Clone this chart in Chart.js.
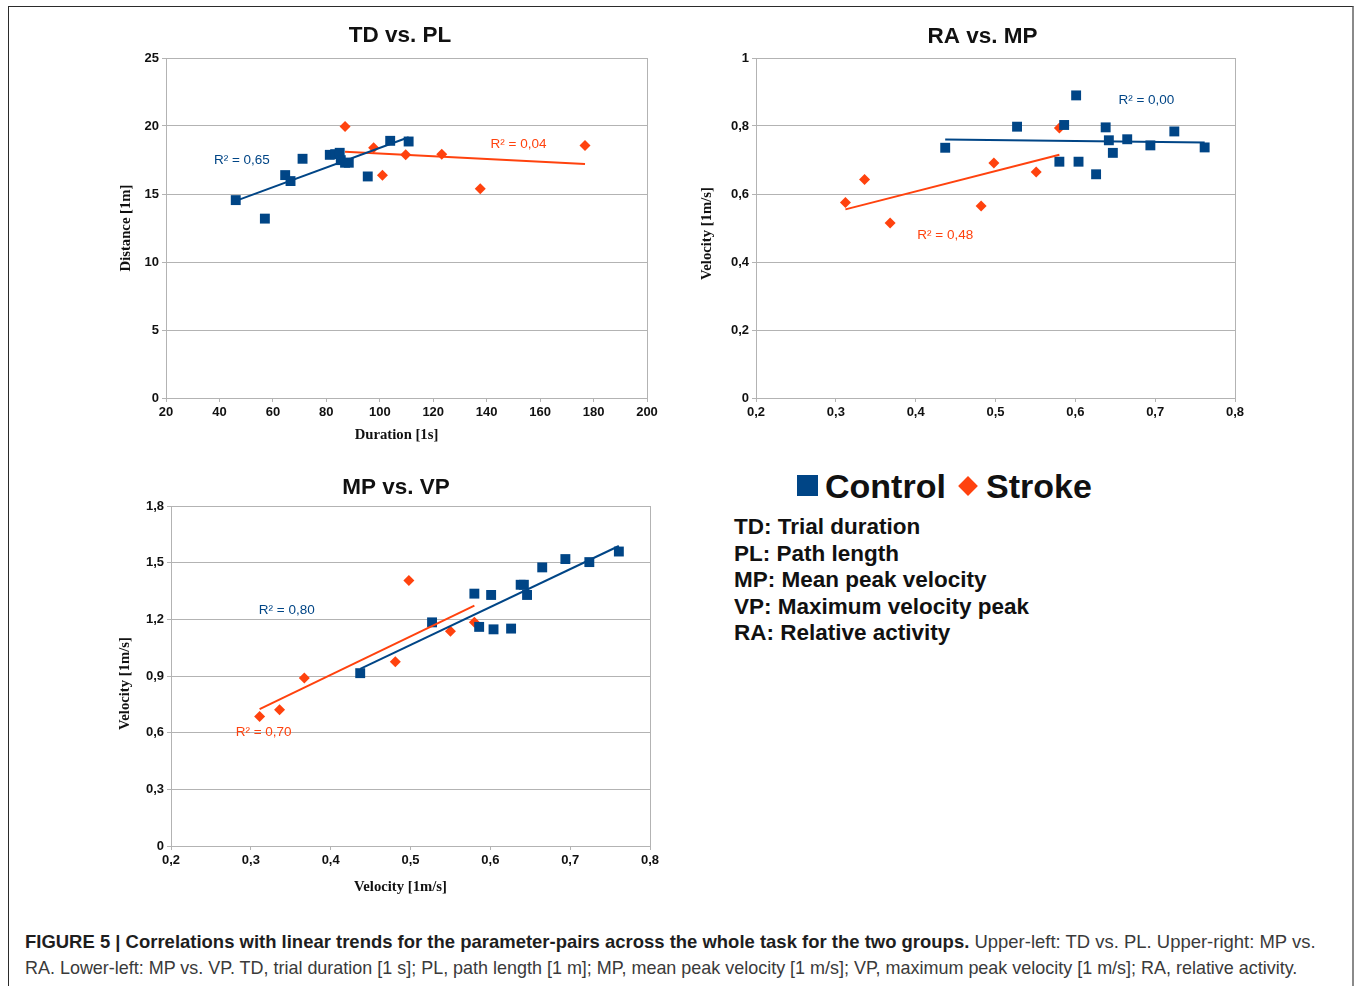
<!DOCTYPE html>
<html>
<head>
<meta charset="utf-8">
<script src="https://cdn.jsdelivr.net/npm/chart.js@4.4.0/dist/chart.umd.min.js"></script>
<style>
  html, body { margin: 0; padding: 0; background: #fff; }
  body { width: 1356px; height: 986px; position: relative; overflow: hidden; font-family: "Liberation Sans", Arial, sans-serif; }
  #frame { position: absolute; left: 8px; top: 6px; width: 1346px; height: 1000px; box-sizing: border-box;
           border: 1px solid #2b2b2b; border-right: 2px solid #8a8a8a; }
  .box { position: absolute; }
  .sq { position: absolute; left: 797px; top: 475px; width: 21px; height: 21px; background: #004586; }
  .dm { position: absolute; left: 961px; top: 479px; width: 14px; height: 14px; background: #ff420e; transform: rotate(45deg); }
  .lg { position: absolute; top: 469px; font: bold 34px/34px "Liberation Sans", Arial, sans-serif; color: #111; }
  #abbr { position: absolute; left: 734px; top: 514px; font: bold 22.5px/26.5px "Liberation Sans", Arial, sans-serif; color: #111; white-space: nowrap; }
  .cap { position: absolute; left: 25px; white-space: nowrap; display: inline-block; transform-origin: left center;
         font: 19px/26px "Liberation Sans Narrow", "Liberation Sans", Arial, sans-serif; color: #3a3a3a; }
  .cap b { color: #1e1e1e; }
</style>
</head>
<body>
<div id="frame"></div>

<div class="sq"></div><div class="lg" style="left:825px">Control</div>
<div class="dm"></div><div class="lg" style="left:986px">Stroke</div>
<div id="abbr">TD: Trial duration<br>PL: Path length<br>MP: Mean peak velocity<br>VP: Maximum velocity peak<br>RA: Relative activity</div>

<div class="cap" style="top:929px" data-w="1291"><b>FIGURE 5 | Correlations with linear trends for the parameter-pairs across the whole task for the two groups.</b> Upper-left: TD vs. PL. Upper-right: MP vs.</div>
<div class="cap" style="top:955px" data-w="1272">RA. Lower-left: MP vs. VP. TD, trial duration [1 s]; PL, path length [1 m]; MP, mean peak velocity [1 m/s]; VP, maximum peak velocity [1 m/s]; RA, relative activity.</div>

<script>
// TD vs. PL
const tdCtrl = [46.1, 57.0, 64.6, 66.6, 71.1, 81.3, 83.3, 85.0, 85.4, 87.0, 88.4, 95.5, 103.9, 110.8];
const plCtrl = [14.55, 13.19, 16.39, 15.95, 17.59, 17.88, 17.93, 18.03, 17.49, 17.3, 17.3, 16.29, 18.91, 18.86];
const tdStroke = [87.0, 97.7, 101.0, 109.7, 123.2, 137.6, 176.8];
const plStroke = [19.96, 18.4, 16.37, 17.88, 17.93, 15.39, 18.57];
const tdTicks = [20, 40, 60, 80, 100, 120, 140, 160, 180, 200];
const plTicks = [0, 5, 10, 15, 20, 25];

// RA vs. MP
const raCtrl = [0.437, 0.527, 0.580, 0.586, 0.601, 0.604, 0.626, 0.638, 0.642, 0.647, 0.665, 0.694, 0.724, 0.762];
const mpCtrl = [0.736, 0.798, 0.695, 0.803, 0.890, 0.695, 0.658, 0.796, 0.758, 0.721, 0.761, 0.743, 0.784, 0.737];
const raStroke = [0.312, 0.336, 0.368, 0.482, 0.498, 0.551, 0.580];
const mpStroke = [0.575, 0.643, 0.515, 0.565, 0.691, 0.665, 0.794];
const raTicks = [0.2, 0.3, 0.4, 0.5, 0.6, 0.7, 0.8];
const mpTicks = [0, 0.2, 0.4, 0.6, 0.8, 1];

// MP vs. VP
const mpCtrlX = [0.437, 0.527, 0.580, 0.586, 0.601, 0.604, 0.626, 0.638, 0.642, 0.646, 0.665, 0.694, 0.724, 0.761];
const vpCtrl = [0.915, 1.184, 1.336, 1.160, 1.329, 1.147, 1.151, 1.383, 1.383, 1.329, 1.475, 1.519, 1.503, 1.559];
const mpStrokeX = [0.311, 0.336, 0.367, 0.481, 0.498, 0.550, 0.580];
const vpStroke = [0.686, 0.721, 0.890, 0.975, 1.406, 1.137, 1.184];
const vpXTicks = [0.2, 0.3, 0.4, 0.5, 0.6, 0.7, 0.8];
const vpTicks = [0, 0.3, 0.6, 0.9, 1.2, 1.5, 1.8];

const blue = '#004586', orange = '#ff420e', gridGray = '#b3b3b3';
const tickFont = { family: '"Liberation Sans", Arial, sans-serif', size: 13, weight: 'bold' };
const axFont = 'bold 14.7px "Liberation Serif", "Times New Roman", serif';
const titleFont = 'bold 22.5px "Liberation Sans", Arial, sans-serif';

const fmt = (v) => String(Math.round(v * 10) / 10).replace('.', ',');
const pts = (xs, ys) => xs.map((x, i) => ({x, y: ys[i]}));

// least squares trend over the data range
function trend(xs, ys) {
    const n = xs.length;
    const mx = xs.reduce((a, b) => a + b) / n;
    const my = ys.reduce((a, b) => a + b) / n;
    let sxy = 0, sxx = 0;
    xs.forEach((x, i) => { sxy += (x - mx) * (ys[i] - my); sxx += (x - mx) ** 2; });
    const b = sxy / sxx, a = my - b * mx;
    const lo = Math.min(...xs), hi = Math.max(...xs);
    return [{x: lo, y: a + b * lo}, {x: hi, y: a + b * hi}];
}

// right border of the plot, titles and R² texts
const extras = {
    id: 'extras',
    afterDatasetsDraw(chart, args, opts) {
        const {ctx, chartArea: a, scales: {x, y}} = chart;
        ctx.save();
        ctx.strokeStyle = gridGray;
        ctx.lineWidth = 1;
        const rx = Math.round(a.right) + 0.5;
        ctx.beginPath(); ctx.moveTo(rx, a.top); ctx.lineTo(rx, a.bottom); ctx.stroke();
        ctx.textAlign = 'center';
        ctx.textBaseline = 'middle';
        ctx.font = '13.5px "Liberation Sans", Arial, sans-serif';
        (opts.labels || []).forEach(l => {
            ctx.fillStyle = l.color;
            ctx.fillText(l.text, x.getPixelForValue(l.x), y.getPixelForValue(l.y));
        });
        ctx.fillStyle = '#111';
        (opts.texts || []).forEach(t => {
            if (!t.text) return;
            ctx.save();
            ctx.font = t.font;
            ctx.translate(t.x - opts.left, t.y - opts.top);
            if (t.rot) ctx.rotate(-Math.PI / 2);
            ctx.fillText(t.text, 0, 0);
            ctx.restore();
        });
        ctx.restore();
    }
};

function build(s) {
    const padL = 70, padT = 50, padR = 24, padB = 60;
    const left = s.area.l - padL, top = s.area.t - padT;
    const w = s.area.r - s.area.l + padL + padR;
    const h = s.area.b - s.area.t + padT + padB;
    const box = document.createElement('div');
    box.className = 'box';
    box.style.left = left + 'px';
    box.style.top = top + 'px';
    const cv = document.createElement('canvas');
    cv.width = w; cv.height = h;
    cv.style.width = w + 'px'; cv.style.height = h + 'px';
    box.appendChild(cv);
    document.body.appendChild(box);

    new Chart(cv, {
        type: 'scatter',
        data: {
            datasets: [{
                data: trend(s.cx, s.cy), showLine: true, borderColor: blue, borderWidth: 2, pointRadius: 0
            }, {
                data: trend(s.sx, s.sy), showLine: true, borderColor: orange, borderWidth: 2, pointRadius: 0
            }, {
                data: pts(s.cx, s.cy), pointStyle: 'rect', pointRadius: 7, backgroundColor: blue, borderWidth: 0
            }, {
                data: pts(s.sx, s.sy), pointStyle: 'rectRot', pointRadius: 5.5, backgroundColor: orange, borderWidth: 0
            }]
        },
        plugins: [extras],
        options: {
            responsive: false,
            animation: false,
            events: [],
            layout: { padding: { left: 0, top: padT, right: padR, bottom: 0 } },
            plugins: {
                legend: { display: false },
                tooltip: { enabled: false },
                extras: {
                    left, top, labels: s.labels,
                    texts: [
                        {text: s.title, x: s.titlePos[0], y: s.titlePos[1], font: titleFont},
                        {text: s.yTitle, x: s.yTitlePos[0], y: s.yTitlePos[1], font: axFont, rot: true},
                        {text: s.xTitle, x: s.xTitlePos[0], y: s.xTitlePos[1], font: axFont}
                    ]
                }
            },
            scales: {
                x: {
                    type: 'linear', min: s.xTicks[0], max: s.xTicks[s.xTicks.length - 1],
                    afterBuildTicks: (sc) => { sc.ticks = s.xTicks.map(v => ({value: v})); },
                    afterFit: (sc) => { sc.height = padB; },
                    grid: { drawOnChartArea: false, color: gridGray, tickLength: 4 },
                    border: { color: gridGray },
                    ticks: { font: tickFont, color: '#111', padding: 3, maxRotation: 0, autoSkip: false, callback: fmt }
                },
                y: {
                    type: 'linear', min: s.yTicks[0], max: s.yTicks[s.yTicks.length - 1],
                    afterBuildTicks: (sc) => { sc.ticks = s.yTicks.map(v => ({value: v})); },
                    afterFit: (sc) => { sc.width = padL; },
                    grid: { color: gridGray, tickLength: 4 },
                    border: { color: gridGray },
                    ticks: { font: tickFont, color: '#111', padding: 3, autoSkip: false, callback: fmt }
                }
            }
        }
    });
}

build({
    area: {l: 166, t: 58, r: 647, b: 398},
    title: 'TD vs. PL', titlePos: [400, 36],
    yTitle: 'Distance [1m]', yTitlePos: [126, 228],
    xTitle: 'Duration [1s]', xTitlePos: [396.5, 435],
    cx: tdCtrl, cy: plCtrl, sx: tdStroke, sy: plStroke, xTicks: tdTicks, yTicks: plTicks,
    labels: [
        {text: 'R² = 0,65', x: 48.4, y: 17.5, color: blue},
        {text: 'R² = 0,04', x: 151.9, y: 18.68, color: orange}
    ]
});

build({
    area: {l: 756, t: 58, r: 1235, b: 398},
    title: 'RA vs. MP', titlePos: [982.5, 37],
    yTitle: 'Velocity [1m/s]', yTitlePos: [707, 233.5],
    xTitle: '', xTitlePos: [0, 0],
    cx: raCtrl, cy: mpCtrl, sx: raStroke, sy: mpStroke, xTicks: raTicks, yTicks: mpTicks,
    labels: [
        {text: 'R² = 0,00', x: 0.689, y: 0.876, color: blue},
        {text: 'R² = 0,48', x: 0.437, y: 0.479, color: orange}
    ]
});

build({
    area: {l: 171, t: 506, r: 650, b: 846},
    title: 'MP vs. VP', titlePos: [396, 488],
    yTitle: 'Velocity [1m/s]', yTitlePos: [125, 683.5],
    xTitle: 'Velocity [1m/s]', xTitlePos: [400.5, 887],
    cx: mpCtrlX, cy: vpCtrl, sx: mpStrokeX, sy: vpStroke, xTicks: vpXTicks, yTicks: vpTicks,
    labels: [
        {text: 'R² = 0,80', x: 0.345, y: 1.249, color: blue},
        {text: 'R² = 0,70', x: 0.316, y: 0.603, color: orange}
    ]
});

// squeeze caption lines to the measured widths
document.querySelectorAll('.cap').forEach(el => {
    el.style.transform = `scaleX(${+el.dataset.w / el.scrollWidth})`;
});
</script>
</body>
</html>
